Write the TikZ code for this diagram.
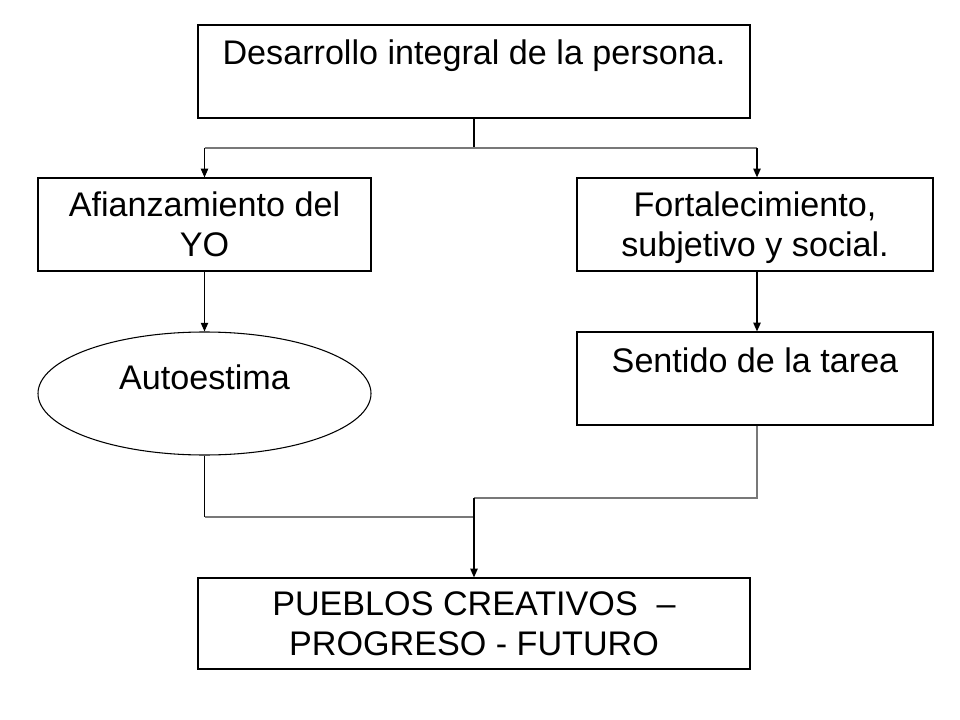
\documentclass[tikz,border=0pt]{standalone}
\usepackage{fontspec}
\setmainfont{Liberation Sans}
\usetikzlibrary{arrows.meta,shapes.geometric}
\definecolor{lgray}{RGB}{120,120,120}
\begin{document}
\begin{tikzpicture}[x=0.75pt,y=-0.75pt,
  box/.style={draw,line width=0.9pt,rectangle,inner sep=0pt},
  ell/.style={draw,line width=0.8pt,ellipse,inner sep=0pt},
  txt/.style={anchor=base,inner sep=0pt,font=\fontsize{25.6}{30}\selectfont},
  arr/.style={line width=0.9pt,-{Triangle[width=5.5pt,length=6.5pt]}},
  ln/.style={line width=0.9pt},
  gln/.style={line width=1.1pt,draw=lgray}]
\useasboundingbox[fill=white] (0,0) rectangle (960,720);
% boxes
\node[box,minimum width=414pt,minimum height=69.75pt] (top) at (474,71.5) {};
\node[box,minimum width=249.75pt,minimum height=69.75pt] (left) at (204.5,224.5) {};
\node[box,minimum width=267pt,minimum height=69.75pt] (right) at (755,224.5) {};
\node[ell,minimum width=249.75pt,minimum height=92.25pt] (auto) at (204.5,393.5) {};
\node[box,minimum width=267pt,minimum height=69.75pt] (sent) at (755,378.5) {};
\node[box,minimum width=414pt,minimum height=68.25pt] (bot) at (474,623.5) {};
% texts
\node[txt] (t1) at (474,65) {Desarrollo\ integral\ de\ la\ persona.};
\node[txt] (t2a) at (204.5,217) {Afianzamiento del};
\node[txt] (t2b) at (204.5,257) {YO};
\node[txt] (t3a) at (755,217) {Fortalecimiento,};
\node[txt] (t3b) at (755,257) {subjetivo y social.};
\node[txt] (t4) at (204.5,389) {Autoestima};
\node[txt] (t5) at (755,372) {Sentido de la tarea};
\node[txt] (t6a) at (474,615) {PUEBLOS CREATIVOS\ \ –};
\node[txt] (t6b) at (474,655) {PROGRESO - FUTURO};
% connectors
\coordinate (j1) at (474,148);
\coordinate (jl) at (204.5,148);
\coordinate (jr) at (757,148);
\coordinate (bl) at (204.5,517);
\coordinate (bm) at (474,517);
\coordinate (br) at (757,498);
\coordinate (j2) at (474,498);
\draw[ln] (top.south) -- (j1);
\draw[gln] (jl) -- (jr);
\draw[arr] (jl) -- (left.north);
\draw[arr] (jr) -- (jr |- right.north);
\draw[arr] (left.south) -- (auto.north);
\draw[arr] (right.south -| jr) -- (jr |- sent.north);
\draw[ln] (auto.south) -- (bl);
\draw[gln] (bl) -- (bm);
\draw[gln] (jr |- sent.south) -- (br) -- (j2);
\draw[arr] (j2) -- (bot.north);
\end{tikzpicture}
\end{document}
